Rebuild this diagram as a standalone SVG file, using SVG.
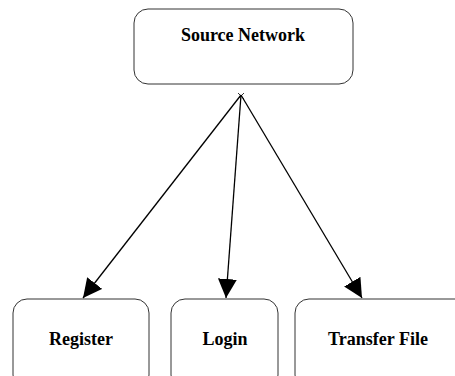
<svg xmlns="http://www.w3.org/2000/svg" width="455" height="376" viewBox="0 0 455 376">
<style>
.box{fill:#fff;stroke:#333;stroke-width:1}
.lbl{font-family:"Liberation Serif","Times New Roman",serif;font-weight:bold;font-size:18px;text-anchor:middle;fill:#000}
.edge{stroke:#000;stroke-width:1.3;fill:none}
</style>
<defs>
<marker id="arr" viewBox="0 0 10 10" refX="10" refY="5" markerWidth="19" markerHeight="19" markerUnits="userSpaceOnUse" orient="auto">
<path d="M0,0 L10,5 L0,10 z" fill="#000"/>
</marker>
</defs>
<rect width="455" height="376" fill="#fff"/>
<g id="source">
<rect class="box" x="134" y="9" width="219" height="75" rx="14"/>
<text class="lbl" x="243" y="41">Source Network</text>
</g>
<g id="register">
<rect class="box" x="13" y="299" width="136" height="90" rx="14"/>
<text class="lbl" x="81" y="345">Register</text>
</g>
<g id="login">
<rect class="box" x="171" y="299" width="107" height="90" rx="14"/>
<text class="lbl" x="225" y="345">Login</text>
</g>
<g id="transfer">
<rect class="box" x="295" y="299" width="180" height="90" rx="14"/>
<text class="lbl" x="378" y="345">Transfer File</text>
</g>
<g id="connectors">
<line class="edge" x1="241" y1="95" x2="83" y2="298" marker-end="url(#arr)"/>
<line class="edge" x1="241" y1="95" x2="226" y2="298" marker-end="url(#arr)"/>
<line class="edge" x1="241" y1="95" x2="362" y2="298" marker-end="url(#arr)"/>
<path d="M238,93 L244,99 M244,93 L238,99" stroke="#000" stroke-width="0.8"/>
</g>
</svg>
